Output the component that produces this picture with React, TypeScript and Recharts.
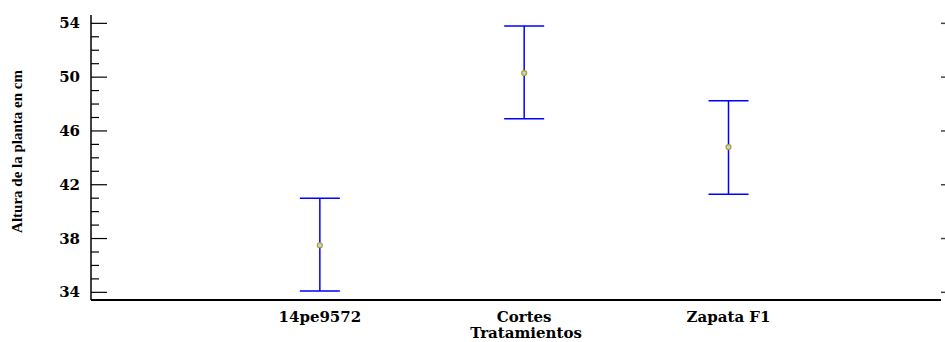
import React from 'react';
import { ScatterChart, Scatter, XAxis, YAxis, ErrorBar } from 'recharts';

// Tratamientos y medias con sus intervalos (Altura de la planta en cm)
const categories = ['14pe9572', 'Cortes', 'Zapata F1'];
const means = [37.5, 50.3, 44.8];
const lows = [34.1, 46.9, 41.3];
const highs = [41.0, 53.8, 48.25];

const categoryPositions = [1, 2, 3];
const yMajorTicks = [34, 38, 42, 46, 50, 54];
const yAllTicks = [34, 35, 36, 37, 38, 39, 40, 41, 42, 43, 44, 45, 46, 47, 48, 49, 50, 51, 52, 53, 54];

const data = categories.map((name, i) => ({
    name,
    x: categoryPositions[i],
    y: means[i],
    err: [means[i] - lows[i], highs[i] - means[i]],
}));

const Y_DOMAIN: [number, number] = [33.43, 54.62];
const X_DOMAIN: [number, number] = [-0.12, 4.04];
const TICK_FONT = '"DejaVu Serif", serif';

const LeftTick = ({ x, y, payload }: any) => {
    const major = yMajorTicks.includes(payload.value);
    return (
        <g>
            <line x1={x} y1={y} x2={x + (major ? 16 : 8)} y2={y} stroke="#000" strokeWidth={1.2} />
            {major && (
                <text x={x - 11} y={y} textAnchor="end" dominantBaseline="central"
                    fontFamily={TICK_FONT} fontWeight="bold" fontSize={15} fill="#000">
                    {payload.value}
                </text>
            )}
        </g>
    );
};

const RightTick = ({ x, y }: any) => (
    <line x1={x} y1={y} x2={x + 4} y2={y} stroke="#444" strokeWidth={1.5} />
);

const YLabel = ({ viewBox }: any) => {
    const cx = 17;
    const cy = viewBox ? viewBox.y + viewBox.height / 2 - 6 : 151;
    return (
        <text x={cx} y={cy} transform={`rotate(-90, ${cx}, ${cy})`} textAnchor="middle"
            dominantBaseline="central" fontFamily='"Liberation Serif", serif' fontWeight="bold"
            fontSize={15} fill="#000">
            Altura de la planta en cm
        </text>
    );
};

const Marker = ({ cx, cy }: any) => (
    <circle cx={cx} cy={cy} r={2.5} fill="#cfcfcf" stroke="#a3a32a" strokeWidth={1.2} />
);

export default function App() {
    return (
        <div style={{ position: 'absolute', left: 0, top: 0, background: '#fff' }}>
            <ScatterChart width={945} height={342} margin={{ top: 15, right: 0, bottom: 0, left: 0 }}>
                <XAxis
                    type="number"
                    dataKey="x"
                    domain={X_DOMAIN}
                    allowDataOverflow
                    ticks={categoryPositions}
                    tickFormatter={(v: number) => categories[v - 1] ?? ''}
                    interval={0}
                    height={42}
                    tickLine={false}
                    tickSize={0}
                    tickMargin={11}
                    axisLine={{ stroke: '#000', strokeWidth: 2 }}
                    tick={{ fontFamily: TICK_FONT, fontWeight: 'bold', fontSize: 15, fill: '#000' }}
                    label={{
                        value: 'Tratamientos',
                        position: 'insideBottom',
                        offset: 4,
                        dx: 10,
                        fontFamily: TICK_FONT,
                        fontWeight: 'bold',
                        fontSize: 15,
                        fill: '#000',
                    }}
                />
                <XAxis
                    xAxisId="top"
                    orientation="top"
                    type="number"
                    domain={X_DOMAIN}
                    height={0}
                    tick={false}
                    tickLine={false}
                    axisLine={{ stroke: '#555', strokeWidth: 2 }}
                />
                <YAxis
                    type="number"
                    dataKey="y"
                    domain={Y_DOMAIN}
                    allowDataOverflow
                    ticks={yAllTicks}
                    interval={0}
                    width={91}
                    tickLine={false}
                    tickSize={0}
                    tickMargin={0}
                    tick={<LeftTick />}
                    axisLine={{ stroke: '#000', strokeWidth: 1.5 }}
                    label={<YLabel />}
                />
                <YAxis
                    yAxisId="right"
                    orientation="right"
                    type="number"
                    domain={Y_DOMAIN}
                    allowDataOverflow
                    ticks={yMajorTicks}
                    interval={0}
                    width={4}
                    tickLine={false}
                    tickSize={0}
                    tickMargin={0}
                    tick={<RightTick />}
                    axisLine={false}
                />
                <Scatter data={data} shape={<Marker />} isAnimationActive={false}>
                    <ErrorBar dataKey="err" direction="y" width={20} stroke="#0000ff" strokeWidth={1.5} />
                </Scatter>
            </ScatterChart>
        </div>
    );
}
